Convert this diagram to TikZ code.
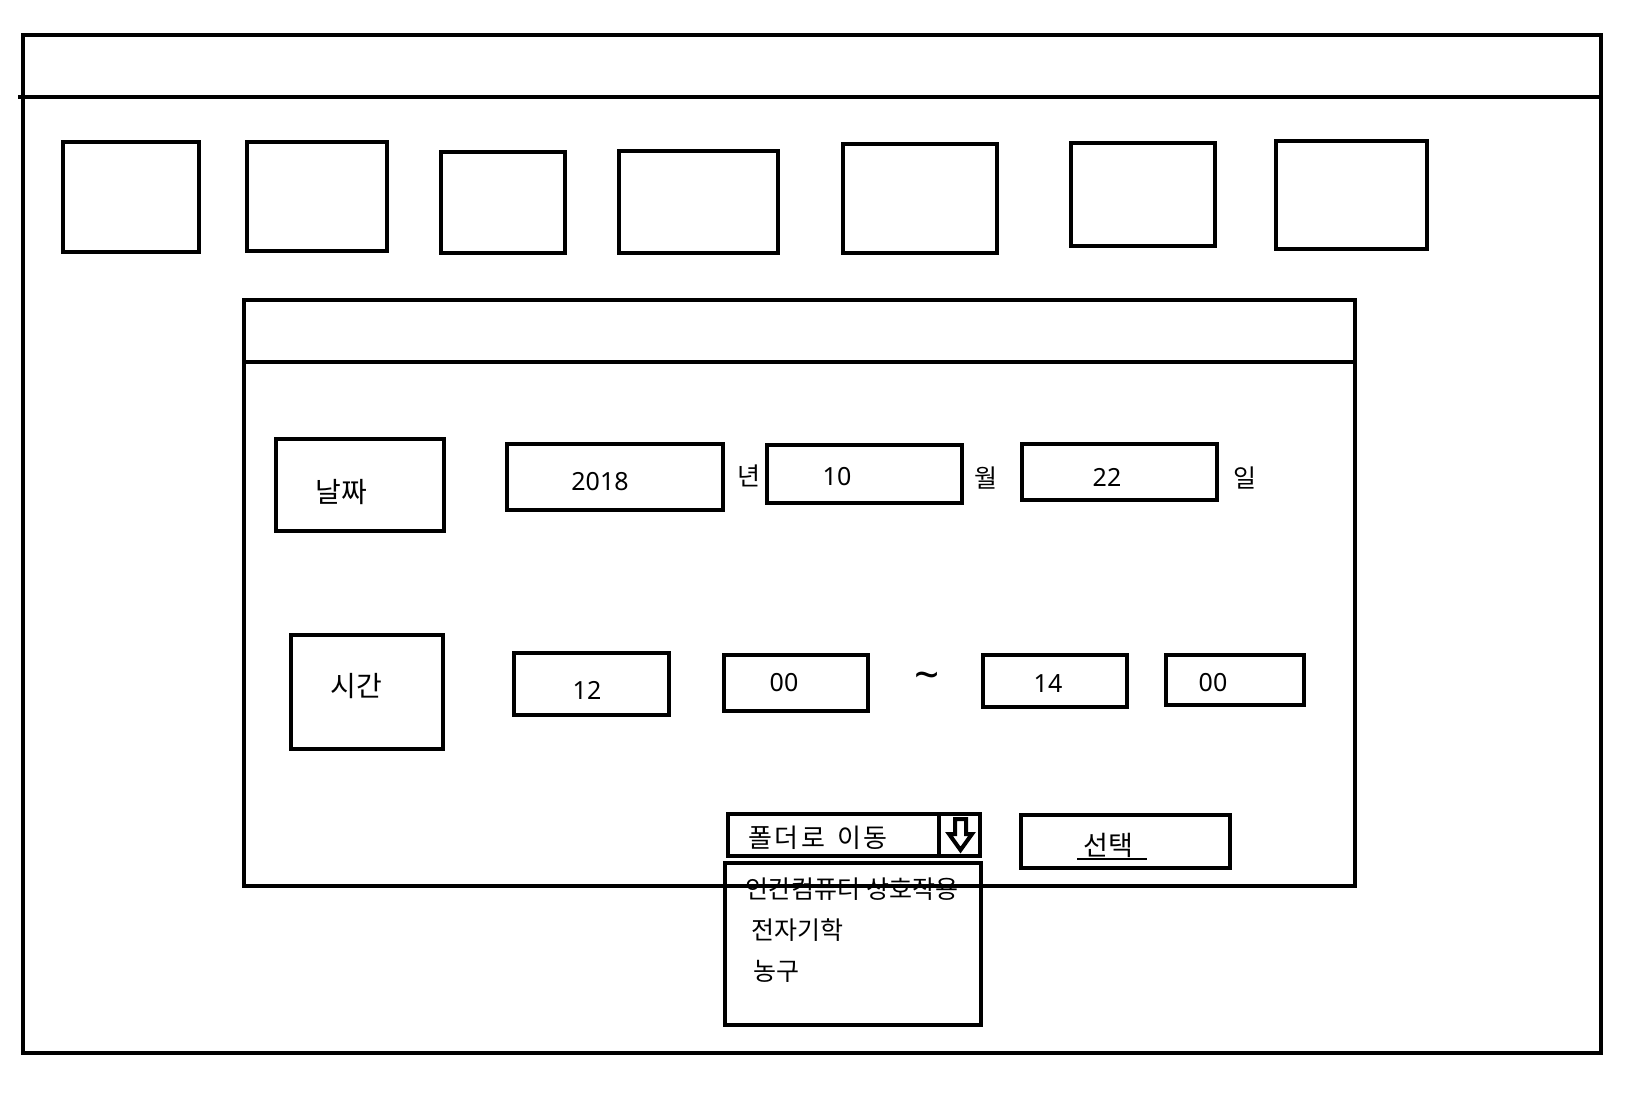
\documentclass[tikz,border=0pt]{standalone}
\usepackage{fontspec}
\setmainfont{Noto Sans}
\newfontfamily\kr{Noto Sans CJK KR}
\usetikzlibrary{positioning}

\begin{document}
\begin{tikzpicture}[
        x=1pt, y=-1pt,
        frame/.style={line width=4.6pt},
        box/.style={draw, line width=4.6pt, anchor=north west, inner sep=0pt, outer sep=0pt},
        lbl/.style={font=\kr\fontsize{25}{30}\selectfont, inner sep=0pt},
        biglbl/.style={font=\kr\fontsize{28}{32}\selectfont, inner sep=0pt},
        num/.style={font=\fontsize{25}{30}\selectfont, inner sep=0pt}
    ]
    \useasboundingbox (0,0) rectangle (1641,1094);

    % main window
    \node[box, minimum width=1578, minimum height=1018] (window) at (23,35) {};
    \draw[frame] (18,97) -- (window.east |- 18,97);

    % toolbar buttons
    \node[box, minimum width=136, minimum height=110] (tool1) at (63,142) {};
    \node[box, minimum width=140, minimum height=109] (tool2) at (247,142) {};
    \node[box, minimum width=124, minimum height=101] (tool3) at (441,152) {};
    \node[box, minimum width=159, minimum height=102] (tool4) at (619,151) {};
    \node[box, minimum width=154, minimum height=109] (tool5) at (843,144) {};
    \node[box, minimum width=144, minimum height=103] (tool6) at (1071,143) {};
    \node[box, minimum width=151, minimum height=108] (tool7) at (1276,141) {};

    % dialog
    \node[box, minimum width=1111, minimum height=586] (dialog) at (244,300) {};
    \draw[frame] (dialog.west |- 0,362) -- (dialog.east |- 0,362);

    % date row
    \node[box, minimum width=168, minimum height=92] (datebox) at (276,439) {};
    \node[biglbl] (datetxt) at (341,492) {날짜};
    \node[box, minimum width=216, minimum height=66] (yearbox) at (507,444) {};
    \node[num] (yeartxt) at (600,482) {2018};
    \node[lbl] (yearunit) at (749,476) {년};
    \node[box, minimum width=195, minimum height=58] (monthbox) at (767,445) {};
    \node[num] (monthtxt) at (837,477) {10};
    \node[lbl] (monthunit) at (986,478) {월};
    \node[box, minimum width=195, minimum height=56] (daybox) at (1022,444) {};
    \node[num] (daytxt) at (1107,477) {22};
    \node[lbl] (dayunit) at (1245,478) {일};

    % time row
    \node[box, minimum width=152, minimum height=114] (timebox) at (291,635) {};
    \node[biglbl] (timetxt) at (356,686) {시간};
    \node[box, minimum width=155, minimum height=62] (starthour) at (514,653) {};
    \node[num] (starthourtxt) at (587,690) {12};
    \node[box, minimum width=144, minimum height=56] (startmin) at (724,655) {};
    \node[num] (startmintxt) at (784,683) {00};
    \node[num, font=\fontsize{44}{48}\selectfont] (tilde) at (927,681) {\char`\~};
    \node[box, minimum width=144, minimum height=52] (endhour) at (983,655) {};
    \node[num] (endhourtxt) at (1048,684) {14};
    \node[box, minimum width=138, minimum height=50] (endmin) at (1166,655) {};
    \node[num] (endmintxt) at (1213,683) {00};

    % folder dropdown
    \node[box, minimum width=252, minimum height=42] (dropdown) at (728,814) {};
    \node[lbl, font=\kr\fontsize{26}{30}\selectfont\addfontfeature{LetterSpace=10}] (droptxt) at (818,838) {폴더로\hspace{4pt} 이동};
    \draw[frame] (939,0 |- dropdown.north) -- (939,0 |- dropdown.south);
    \draw[line width=4pt, line join=miter] (955,819) -- (966,819) -- (966,834) -- (972,834)
        -- (960.5,850) -- (949,834) -- (955,834) -- cycle;
    \node[box, minimum width=256, minimum height=162] (droplist) at (725,863) {};
    \node[lbl] (item1) at (852,889) {인간컴퓨터 상호작용};
    \node[lbl] (item2) at (797,930) {전자기학};
    \node[lbl] (item3) at (776,971) {농구};

    % select button
    \node[box, minimum width=209, minimum height=53] (selectbtn) at (1021,815) {};
    \node[lbl, font=\kr\fontsize{27}{30}\selectfont] (selecttxt) at (1108,845) {선택};
    \draw[line width=1.5pt] (1077,859) -- (1147,859);
\end{tikzpicture}
\end{document}
